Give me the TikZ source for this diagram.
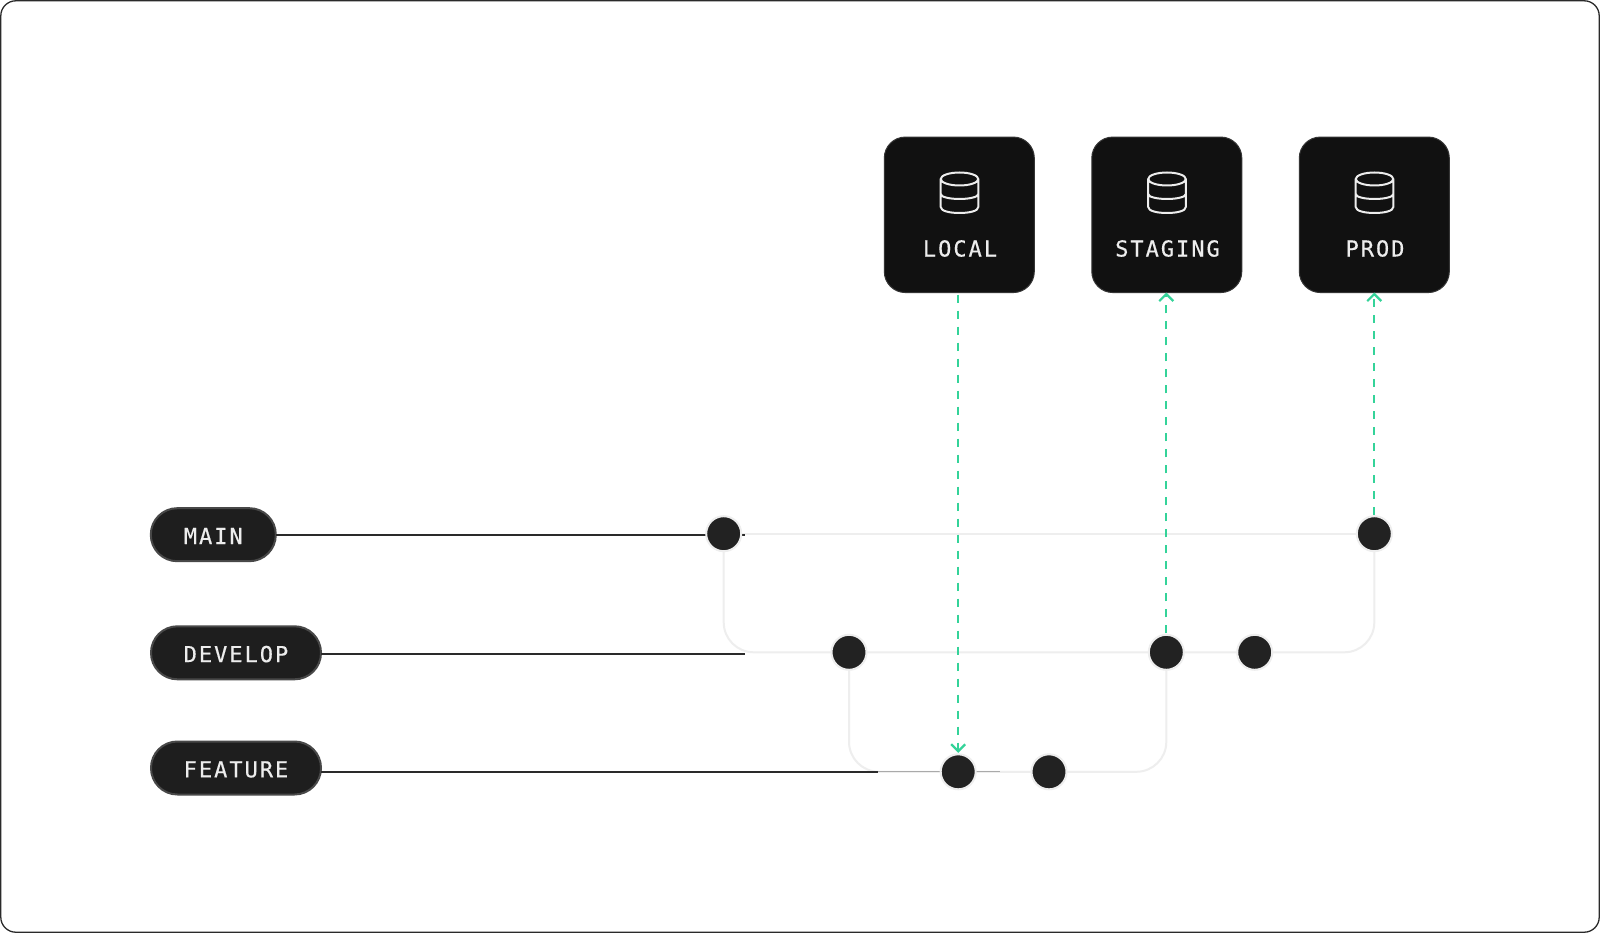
\documentclass[tikz,border=0pt]{standalone}
\usepackage{fontspec}
\usetikzlibrary{arrows.meta,calc}
\newfontfamily\lblfont[LetterSpace=9,RawFeature={embolden=0.5}]{DejaVu Sans Mono}
\definecolor{framec}{HTML}{2A2A2A}
\definecolor{envfill}{HTML}{111111}
\definecolor{pillfill}{HTML}{1E1E1E}
\definecolor{pilledge}{HTML}{484848}
\definecolor{dotfill}{HTML}{222222}
\definecolor{lightline}{HTML}{EEEEEE}
\definecolor{darkline}{HTML}{2A2A2A}
\definecolor{greenline}{HTML}{34D399}
\definecolor{labelc}{HTML}{EDEDED}
\tikzset{
  x=1pt,y=-1pt,
  envbox/.style={draw=envfill!85!white,fill=envfill,line width=1pt,rounded corners=21pt,minimum width=150pt,minimum height=155.5pt,inner sep=0pt,outer sep=0pt},
  envlabel/.style={text=labelc,font=\lblfont\fontsize{22}{22}\selectfont,inner sep=0pt},
  pill/.style={draw=pilledge,fill=pillfill,line width=2pt,rounded corners=26.4pt,minimum height=53pt,inner sep=0pt,outer sep=0pt,text=labelc,text height=18.6pt,text depth=0pt,font=\lblfont\fontsize{22}{22}\selectfont},
  commit/.style={circle,draw=lightline,fill=dotfill,line width=2pt,minimum size=35pt,inner sep=0pt,outer sep=0pt},
  branchline/.style={draw=lightline,line width=2pt,line join=round},
  headline/.style={draw=darkline,line width=2pt},
  thinline/.style={draw=darkline!40,line width=1pt},
  deploy/.style={draw=greenline,line width=2pt,dash pattern=on 8pt off 8pt,-{Straight Barb[length=7pt,width=14pt,line width=2.2pt]}},
  pics/dbicon/.style={code={
    \draw[draw=labelc,line width=2pt,line join=round]
      (0,-10) ellipse [x radius=18.8, y radius=6.5]
      (-18.8,-10) -- (-18.8,18) .. controls (-18.8,22) and (-10,24) .. (0,24) .. controls (10,24) and (18.8,22) .. (18.8,18) -- (18.8,-10)
      (-18.8,5) .. controls (-18.8,8) and (-10,10) .. (0,10) .. controls (10,10) and (18.8,8) .. (18.8,5);
  }}
}
\begin{document}
\begin{tikzpicture}
\useasboundingbox (0,0) rectangle (1600,933);
\fill[white] (0,0) rectangle (1600,933);
\draw[framec,line width=1.3pt,rounded corners=15pt] (0.8,0.8) rectangle (1599.2,932.2);

% environments
\node[envbox] (local) at (959.3,214.8) {};
\node[envbox] (staging) at (1166.8,214.8) {};
\node[envbox] (prod) at (1374.3,214.8) {};
\pic at (959.5,189) {dbicon};
\pic at (1167,189) {dbicon};
\pic at (1374.5,189) {dbicon};
\node[envlabel] (llocal) at (960,248.5) {LOCAL};
\node[envlabel] (lstaging) at (1167.5,248.5) {STAGING};
\node[envlabel] (lprod) at (1375,248.5) {PROD};

% branch labels
\node[pill,minimum width=125pt] (main) at (213.3,534.7) {MAIN};
\node[pill,minimum width=170pt] (develop) at (236,652.8) {DEVELOP};
\node[pill,minimum width=170pt] (feature) at (236,768) {FEATURE};

% commit anchors
\coordinate (c1) at (723.7,533.7);
\coordinate (c2) at (849,652.3);
\coordinate (c3) at (958.2,771.8);
\coordinate (c4) at (1049,771.8);
\coordinate (c5) at (1166.3,652.3);
\coordinate (c6) at (1254.7,652.3);
\coordinate (c7) at (1374.3,533.7);
\coordinate (mainend) at (745,535);
\coordinate (devend) at (745,654);
\coordinate (featend) at (878,771.8);
\coordinate (featthin) at (1000,771.8);

% light branches
\draw[branchline] (c1) -- (c7);
\draw[branchline,rounded corners=30pt] (c1) |- (c6);
\draw[branchline,rounded corners=30pt] (c6) -- (c7 |- c6) -- (c7);
\draw[branchline,rounded corners=30pt] (c2) |- (c4);
\draw[branchline,rounded corners=30pt] (c4) -- (c5 |- c4) -- (c5);

% dark heads
\draw[headline] (main.east |- mainend) -- (mainend);
\draw[headline] (develop.east |- devend) -- (devend);
\draw[headline] (feature.east |- featend) -- (featend);
\draw[thinline] (featend) -- (featthin);

% deployments
\draw[deploy] ($(local.south -| c3)+(0,2)$) -- ($(c3)+(0,-19)$);
\draw[deploy] ($(c5)+(0,-19)$) -- (staging.south -| c5);
\draw[deploy] ($(c7)+(0,-19)$) -- (prod.south -| c7);

% commits
\node[commit] (d1) at (c1) {};
\node[commit] (d2) at (c2) {};
\node[commit] (d3) at (c3) {};
\node[commit] (d4) at (c4) {};
\node[commit] (d5) at (c5) {};
\node[commit] (d6) at (c6) {};
\node[commit] (d7) at (c7) {};
\end{tikzpicture}
\end{document}
